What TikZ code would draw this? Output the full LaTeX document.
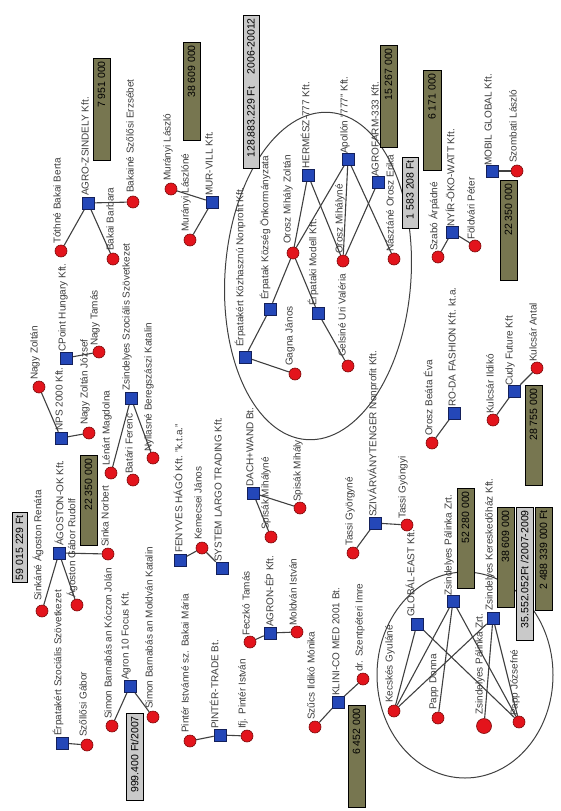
\documentclass[tikz,border=0pt]{standalone}
\usepackage{fontspec}
\setmainfont{Liberation Sans}
\usetikzlibrary{backgrounds}
\definecolor{sqfill}{HTML}{2447B8}
\definecolor{sqdraw}{HTML}{14205A}
\definecolor{cifill}{HTML}{E3141C}
\definecolor{cidraw}{HTML}{7A0A0A}
\definecolor{olv}{HTML}{777650}
\definecolor{gry}{HTML}{C9C9C9}
\definecolor{txtc}{HTML}{3C3C3C}
\definecolor{linc}{HTML}{404040}
\tikzset{
  sq/.style={draw=sqdraw, fill=sqfill, minimum size=12pt, inner sep=0pt, line width=0.6pt},
  ci/.style={circle, draw=cidraw, fill=cifill, minimum size=12pt, inner sep=0pt, line width=0.6pt},
  bigci/.style={ci, minimum size=15pt},
  lbl/.style={rotate=90, anchor=west, inner sep=0pt, font=\fontsize{10}{12}\selectfont, text=txtc},
  con/.style={draw=linc, line width=1.1pt},
  ell/.style={draw=linc, line width=1pt},
  obox/.style={draw=black, fill=olv, line width=0.9pt},
  gbox/.style={draw=black, fill=gry, line width=0.9pt},
  btxt/.style={rotate=90, anchor=east, inner sep=0pt, font=\fontsize{10.5}{12}\selectfont, text=black}
}
\newcommand\mySq[6]{\node[sq] (#1) at (#2,#3) {}; \node[lbl] (#1t) at (#4,#5) {#6};}
\newcommand\myCi[6]{\node[ci] (#1) at (#2,#3) {}; \node[lbl] (#1t) at (#4,#5) {#6};}
% name, style, x1, y1, x2, y2, text
\newcommand\myBox[7]{\path[#2] (#3,#4) rectangle (#5,#6); \node[btxt] (#1) at ({(#3+#5)/2},{#4+3}) {#7};}
\begin{document}
\begin{tikzpicture}[x=1pt,y=-1pt]
\useasboundingbox (0,0) rectangle (560,811);

% ellipses
\draw[ell, rotate around={-4:(318,276)}] (318,276) ellipse [x radius=93, y radius=164];
\draw[ell] (465,675) ellipse [x radius=88, y radius=103];

% boxes
\myBox{b1}{obox}{93}{58}{110}{160}{7 951 000}
\myBox{b2}{obox}{183}{42}{200}{140}{38 609 000}
\myBox{b3}{gbox}{243}{15}{259}{168}{128.883.229 Ft\hspace{1.2em}2006-20012}
\myBox{b4}{obox}{380}{45}{397}{147}{15 267 000}
\myBox{b5}{gbox}{402}{157}{418}{228}{1 583 208 Ft}
\myBox{b6}{obox}{423}{70}{441}{170}{6 171 000}
\myBox{b7}{obox}{500}{180}{517}{280}{22 350 000}
\myBox{b8}{obox}{80}{455}{97}{545}{22 350 000}
\myBox{b9}{gbox}{12}{512}{27}{582}{59 015 229 Ft}
\myBox{b10}{gbox}{126}{713}{143}{800}{999.400 Ft/2007}
\myBox{b11}{obox}{348}{705}{365}{807}{6 452 000}
\myBox{b12}{obox}{525}{385}{542}{485}{28 755 000}
\myBox{b13}{obox}{457}{488}{474}{588}{52 280 000}
\myBox{b14}{obox}{497}{507}{514}{607}{38 609 000}
\myBox{b15}{gbox}{516}{507}{533}{640}{35.552.052Ft /2007-2009}
\myBox{b16}{obox}{535}{507}{552}{610}{2 488 339 000 Ft}

% square nodes
\mySq{s1}{88}{203}{85}{196}{AGRO-ZSINDELY Kft.}
\mySq{s2}{212}{202}{209}{196}{MUR-VILL Kft.}
\mySq{s3}{245}{357}{240}{347}{Érpatakért Közhasznú Nonprofit Kft.}
\mySq{s4}{270}{309}{265}{300}{Érpatak Község Önkormányzata}
\mySq{s5}{308}{175}{305}{169}{HERMÉSZ-777 Kft.}
\mySq{s6}{348}{159}{345}{154}{Apollón "777" Kft.}
\mySq{s7}{378}{182}{375}{177}{AGROFARM-333 Kft.}
\mySq{s8}{318}{313}{313}{306}{Érpataki Modell Kft.}
\mySq{s9}{452}{232}{450}{227}{NYÍR-ÖKO-WATT Kft.}
\mySq{s10}{492}{171}{488}{166}{MOBIL GLOBAL Kft.}
\mySq{s11}{61}{438}{59}{431}{NPS 2000 Kft.}
\mySq{s12}{66}{358}{63}{352}{CPoint Hungary Kft.}
\mySq{s13}{131}{398}{127}{391}{Zsindelyes Szociális Szövetkezet}
\mySq{s14}{59}{553}{59}{546}{ÁGOSTON-OK Kft.}
\mySq{s15}{62}{743}{58}{736}{Érpatakért Szociális Szövetkezet}
\mySq{s16}{130}{686}{126}{680}{Agron 10 Focus Kft.}
\mySq{s17}{220}{735}{214}{729}{PINTÉR-TRADE Bt.}
\mySq{s18}{180}{560}{178}{553}{FENYVES HÁGÓ Kft. "k.t.a."}
\mySq{s19}{222}{568}{218}{562}{SYSTEM LARGO TRADING Kft.}
\mySq{s20}{270}{633}{269}{627}{AGRON-ÉP Kft.}
\mySq{s21}{253}{493}{250}{487}{DACH+WAND Bt.}
\mySq{s22}{338}{702}{336}{696}{KLINI-CO MED 2001 Bt.}
\mySq{s23}{375}{523}{373}{517}{SZIVÁRVÁNYTENGER Nonprofit Kft.}
\mySq{s24}{454}{413}{452}{407}{RO-DA FASHION Kft. kt.a.}
\mySq{s25}{514}{391}{510}{386}{Cudy Future Kft}
\mySq{s26}{417}{624}{410}{617}{GLOBÁL-EAST Kft.}
\mySq{s27}{453}{601}{449}{596}{Zsindelyes Pálinka Zrt.}
\mySq{s28}{493}{618}{490}{611}{Zsindelyes Kereskedőház Kft.}

% circle nodes
\myCi{c1}{133}{202}{130}{193}{Bakainé Szőlősi Erzsébet}
\myCi{c2}{61}{251}{57}{244}{Tóthné Bakai Berta}
\myCi{c3}{113}{259}{110}{251}{Bakai Barbara}
\myCi{c4}{171}{189}{168}{181}{Murányi László}
\myCi{c5}{190}{240}{186}{232}{Murányi Lászlóné}
\myCi{c6}{295}{374}{290}{366}{Gagna János}
\myCi{c7}{293}{253}{288}{244}{Orosz Mihály Zoltán}
\myCi{c8}{343}{261}{340}{254}{Orosz Mihályné}
\myCi{c9}{394}{259}{390}{252}{Násztáné Orosz Erika}
\myCi{c10}{348}{366}{342}{357}{Gelsiné Uri Valéria}
\myCi{c11}{438}{257}{434}{251}{Szabó Árpádné}
\myCi{c12}{475}{246}{471}{240}{Földvári Péter}
\myCi{c13}{517}{171}{513}{163}{Szombati László}
\myCi{c14}{39}{387}{35}{380}{Nagy Zoltán}
\myCi{c15}{89}{433}{85}{425}{Nagy Zoltán József}
\myCi{c16}{99}{352}{95}{346}{Nagy Tamás}
\myCi{c17}{153}{458}{149}{452}{Nyilasné Beregszászi Katalin}
\myCi{c18}{133}{480}{129}{474}{Batári Ferenc}
\myCi{c19}{111}{473}{107}{466}{Lénárt Magdolna}
\myCi{c20}{108}{554}{105}{547}{Sinka Norbert}
\myCi{c21}{42}{611}{38}{601}{Sinkáné Ágoston Renáta}
\myCi{c22}{77}{605}{72}{598}{Ágoston Gábor Rudolf}
\myCi{c23}{87}{745}{83}{737}{Szőllősi Gábor}
\myCi{c24}{112}{726}{108}{719}{Simon Barnabás an Kóczon Jolán}
\myCi{c25}{153}{717}{149}{709}{Simon Barnabás an Moldván Katalin}
\myCi{c26}{190}{741}{185}{733}{Pintér Istvánné sz. Bakai Mária}
\myCi{c27}{247}{736}{243}{729}{Ifj. Pintér István}
\myCi{c28}{202}{548}{198}{540}{Kemecsei János}
\myCi{c29}{250}{642}{246}{636}{Feczkó Tamás}
\myCi{c30}{297}{632}{293}{626}{Moldván István}
\myCi{c31}{271}{537}{266}{530}{Spisák Mihályné}
\myCi{c32}{300}{508}{298}{502}{Spisák Mihály}
\myCi{c33}{315}{727}{311}{720}{Szűcs Ildikó Mónika}
\myCi{c34}{363}{679}{360}{672}{dr. Szentpéteri Imre}
\myCi{c35}{353}{553}{350}{546}{Tassi Györgyné}
\myCi{c36}{407}{525}{403}{519}{Tassi Gyöngyi}
\myCi{c37}{432}{443}{428}{436}{Orosz Beáta Éva}
\myCi{c38}{493}{420}{490}{414}{Kulcsár Ildikó}
\myCi{c39}{537}{368}{533}{362}{Kulcsár Antal}
\myCi{c40}{394}{711}{390}{703}{Kecskés Gyuláné}
\myCi{c41}{438}{718}{434}{710}{Papp Donna}
\node[bigci] (c42) at (484,726) {}; \node[lbl] (c42t) at (480,715) {Zsindelyes Pálinka Zrt.};
\myCi{c43}{519}{722}{515}{716}{Papp Józsefné}

% connectors
\begin{scope}[on background layer]
\draw[con] (s1) -- (c1); \draw[con] (s1) -- (c2); \draw[con] (s1) -- (c3);
\draw[con] (s2) -- (c4); \draw[con] (s2) -- (c5);
\draw[con] (s3) -- (s4); \draw[con] (s3) -- (c6);
\draw[con] (s4) -- (c7);
\draw[con] (c7) -- (s5); \draw[con] (c7) -- (s6); \draw[con] (c7) -- (s8);
\draw[con] (s5) -- (c8);
\draw[con] (s6) -- (c8); \draw[con] (s6) -- (c9);
\draw[con] (s7) -- (c8);
\draw[con] (s8) -- (c10);
\draw[con] (s9) -- (c11); \draw[con] (s9) -- (c12);
\draw[con] (s10) -- (c13);
\draw[con] (s11) -- (c14); \draw[con] (s11) -- (c15);
\draw[con] (s12) -- (c16);
\draw[con] (s13) -- (c17); \draw[con] (s13) -- (c19);
\draw[con] (s14) -- (c20); \draw[con] (s14) -- (c21); \draw[con] (s14) -- (c22);
\draw[con] (s15) -- (c23);
\draw[con] (s16) -- (c24); \draw[con] (s16) -- (c25);
\draw[con] (s17) -- (c26); \draw[con] (s17) -- (c27);
\draw[con] (s18) -- (c28); \draw[con] (c28) -- (s19);
\draw[con] (s20) -- (c29); \draw[con] (s20) -- (c30);
\draw[con] (s21) -- (c31); \draw[con] (s21) -- (c32);
\draw[con] (s22) -- (c33); \draw[con] (s22) -- (c34);
\draw[con] (s23) -- (c35); \draw[con] (s23) -- (c36);
\draw[con] (s24) -- (c37);
\draw[con] (s25) -- (c38); \draw[con] (s25) -- (c39);
\draw[con] (s26) -- (c40); \draw[con] (s26) -- (c43);
\draw[con] (s27) -- (c40); \draw[con] (s27) -- (c41); \draw[con] (s27) -- (c43);
\draw[con] (s28) -- (c40); \draw[con] (s28) -- (c42); \draw[con] (s28) -- (c43);
\end{scope}
\end{tikzpicture}
\end{document}
